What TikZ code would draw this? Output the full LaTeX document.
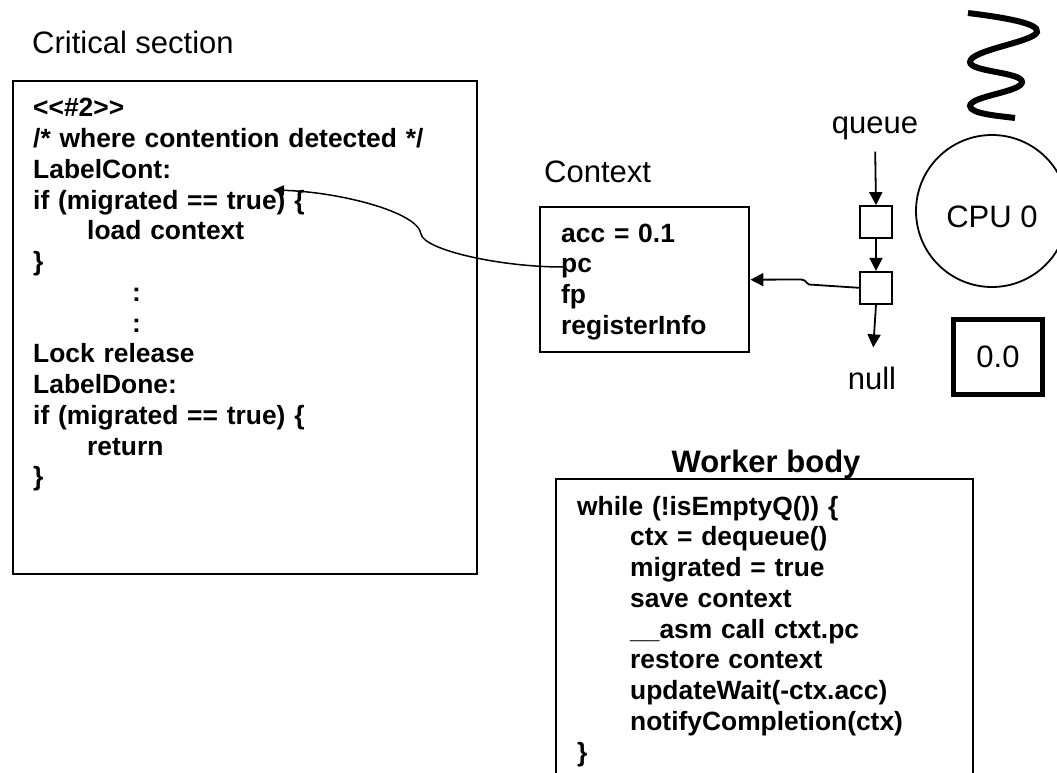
\documentclass[tikz,border=0pt]{standalone}
\usepackage{fontspec}
\setmainfont{Liberation Sans}
\usepackage{tikz}
\usetikzlibrary{positioning, arrows.meta}
\tikzset{
  codeframe/.style={draw, line width=2.4pt, inner sep=0pt, anchor=north west},
  codetext/.style={
    font=\fontsize{26.4}{30.75}\selectfont\bfseries,
    align=left, inner sep=0pt, anchor=base west
  },
  heading/.style={font=\fontsize{31}{36}\selectfont, inner sep=0pt, anchor=base},
  cell/.style={draw, line width=1.8pt, minimum size=32pt, inner sep=0pt},
  link/.style={-{Triangle[length=13pt,width=13pt]}, line width=1.8pt},
}

\begin{document}
\begin{tikzpicture}[x=1pt, y=-1pt]
  \useasboundingbox (0,0) rectangle (1057,773);
  \clip (0,0) rectangle (1057,773);

  % critical section
  \node[heading, anchor=base west] (cshead) at (32,54) {Critical section};
  \node[codeframe, minimum width=464pt, minimum height=493pt] (csbox) at (12,80) {};
  \node[codetext, text width=430pt] (cstext) at (33,117) {<{}<\#2>{}>\\
    /* where contention detected */\\
    LabelCont:\\
    if (migrated == true) \{\\
    \hspace*{54pt}load context\\
    \}\\
    \hspace*{99pt}:\\
    \hspace*{99pt}:\\
    Lock release\\
    LabelDone:\\
    if (migrated == true) \{\\
    \hspace*{54pt}return\\
    \}};

  % saved context
  \node[heading, anchor=base west] (ctxhead) at (544,182) {Context};
  \node[codeframe, minimum width=209pt, minimum height=145pt] (ctx) at (539,206) {};
  \node[codetext, text width=180pt] (ctxtext) at (561,242) {acc = 0.1\\ pc\\ fp\\ registerInfo};

  % run queue
  \node[heading] (queueword) at (875,133) {queue};
  \node[cell] (q1) at (876,222) {};
  \node[cell, below=32pt of q1] (q2) {};
  \node[heading] (nullword) at (872,389) {null};

  \draw[link, shorten <=12pt] (queueword.south) -- (q1.north);
  \draw[link] (q1.south) -- (q2.north);
  \draw[link, shorten >=19pt] (q2.south) -- (nullword.north);
  \draw[link] (q2.west) -- (809,284.5) .. controls (805,282) and (806,280) .. (801,279.5) -- (ctx.east);

  % cpu and its wait value
  \node[draw, circle, line width=1.8pt, minimum size=152pt, inner sep=0pt,
        font=\fontsize{31}{36}\selectfont, text height=34pt] (cpu) at (992,211) {CPU 0};
  \node[draw, line width=5pt, minimum width=89pt, minimum height=75pt, inner sep=0pt,
        font=\fontsize{31}{36}\selectfont] (waitval) at (998,357) {0.0};
  \draw[line width=6pt] (968,13) .. controls (1000,17) and (1040,23) .. (1037,32)
    .. controls (1034,42) and (970,50) .. (970,62)
    .. controls (970,72) and (1022,72) .. (1022,82)
    .. controls (1022,92) and (970,96) .. (970,106)
    .. controls (970,114) and (1000,116) .. (1015,118);

  % jump back into the critical section
  \coordinate (pcwire) at (563,267);
  \coordinate (ifwire) at (273,190);
  \draw[-{Triangle[length=11pt,width=10pt]}, line width=1.5pt] (pcwire)
    .. controls (500,267) and (424,250) .. (421,234)
    .. controls (418,212) and (340,192) .. (ifwire);

  % worker loop
  \node[heading, font=\fontsize{31}{36}\selectfont\bfseries] (wkhead) at (766,472) {Worker body};
  \node[codeframe, minimum width=417pt, minimum height=330pt] (wkbox) at (555,478) {};
  \node[codetext, text width=390pt] (wktext) at (577,515) {while (!isEmptyQ()) \{\\
    \hspace*{53pt}ctx = dequeue()\\
    \hspace*{53pt}migrated = true\\
    \hspace*{53pt}save context\\
    \hspace*{53pt}\_\_asm call ctxt.pc\\
    \hspace*{53pt}restore context\\
    \hspace*{53pt}updateWait(-ctx.acc)\\
    \hspace*{53pt}notifyCompletion(ctx)\\
    \}};
\end{tikzpicture}
\end{document}
